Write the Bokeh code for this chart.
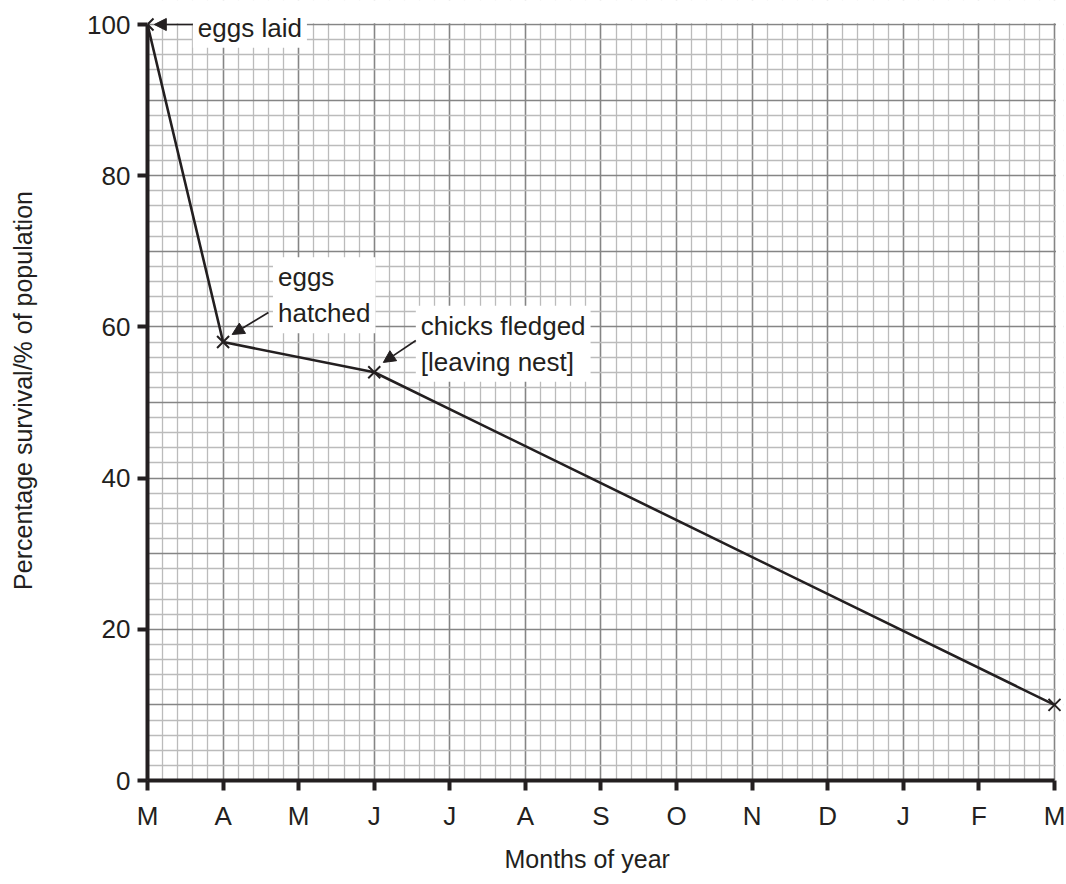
from bokeh.plotting import figure
from bokeh.models import FixedTicker, Label, Arrow, NormalHead, ColumnDataSource, Title
from bokeh.embed import file_html
from bokeh.resources import INLINE

# ---- data ----
month_labels = ["M", "A", "M", "J", "J", "A", "S", "O", "N", "D", "J", "F", "M"]
point_month_index = [0, 1, 3, 12]
survival_percent = [100, 58, 54, 10]
y_tick_values = [0, 20, 40, 60, 80, 100]

FONT = "Liberation Sans"
TXT = "#231f20"
Y_TOP = 100 * 780 / 756   # headroom above 100 for the top note
X_RIGHT = 12 + 9 / 75.58  # a little room right of the last month for its marker

p = figure(width=1066, height=884, x_range=(0, X_RIGHT), y_range=(0, Y_TOP),
           output_backend="svg", toolbar_location=None,
           min_border_left=147, min_border_right=3, min_border_top=0,
           min_border_bottom=104)
p.outline_line_color = None
p.background_fill_color = "white"

# grid
p.xgrid.ticker = FixedTicker(ticks=list(range(13)),
                             minor_ticks=[i / 5 for i in range(61) if i % 5])
p.ygrid.ticker = FixedTicker(ticks=list(range(0, 101, 10)),
                             minor_ticks=[v for v in range(0, 101, 2) if v % 10])
for g in (p.xgrid, p.ygrid):
    g.grid_line_color = "#858585"
    g.grid_line_width = 1.6
    g.minor_grid_line_color = "#bbbbbb"
    g.minor_grid_line_width = 1.3
    g.level = "underlay"

# axes
p.xaxis.ticker = FixedTicker(ticks=list(range(13)), minor_ticks=[])
p.xaxis.major_label_overrides = {i: m for i, m in enumerate(month_labels)}
p.xaxis.bounds = (0, 12)
p.yaxis.ticker = FixedTicker(ticks=y_tick_values, minor_ticks=[])
p.yaxis.bounds = (0, 100)
for ax in (p.xaxis, p.yaxis):
    ax.axis_line_color = "#231f20"
    ax.axis_line_width = 4
    ax.major_tick_line_color = "#231f20"
    ax.major_tick_line_width = 4
    ax.major_tick_out = 10
    ax.major_tick_in = 0
    ax.minor_tick_line_color = None
    ax.major_label_text_font = FONT
    ax.major_label_text_font_size = "26px"
    ax.major_label_text_color = TXT
    ax.axis_label_text_font = FONT
    ax.axis_label_text_font_size = "25px"
    ax.axis_label_text_font_style = "normal"
    ax.axis_label_text_color = TXT

p.yaxis.axis_label = "Percentage survival/% of population"
p.xaxis.major_label_standoff = 10
p.yaxis.major_label_standoff = 7
p.yaxis.axis_label_standoff = 47

# x-axis title, centred under the months M..M
p.add_layout(Title(text="Months of year", align="left", offset=357,
                   standoff=19, text_font=FONT, text_font_size="25px",
                   text_font_style="normal", text_color=TXT), "below")

# blank the strips above 100 and right of the last month so the paper ends there
p.quad(left=[-1, 12.02], right=[X_RIGHT + 1, X_RIGHT + 1],
       bottom=[100.15, -5], top=[Y_TOP + 5, Y_TOP + 5],
       fill_color="white", line_color=None)

src = ColumnDataSource(dict(x=point_month_index, y=survival_percent))
p.line("x", "y", source=src, line_color="#231f20", line_width=2.6)
p.scatter("x", "y", source=src, marker="x", size=17, line_color="#231f20",
          line_width=2)

# annotations
def add_label(x, y, text):
    p.add_layout(Label(x=x, y=y, text=text, text_font=FONT,
                       text_font_size="26px", text_color=TXT,
                       text_align="left", text_baseline="top",
                       text_line_height=1.2,
                       background_fill_color="white", padding=5))

def add_arrow(x0, y0, x1, y1):
    p.add_layout(Arrow(x_start=x0, y_start=y0, x_end=x1, y_end=y1,
                       line_color="#231f20", line_width=1.6,
                       end=NormalHead(size=12, fill_color="#231f20",
                                      line_color="#231f20", line_width=1)))

add_label(0.6, 102.2, "eggs laid")
add_arrow(0.6, 100, 0.09, 100)

add_label(1.66, 69.2, "eggs\nhatched")
add_arrow(1.60, 61.9, 1.12, 59.0)

add_label(3.55, 62.8, "chicks fledged\n[leaving nest]")
add_arrow(3.55, 58.2, 3.12, 55.3)

open("out.html", "w").write(file_html(p, INLINE))
